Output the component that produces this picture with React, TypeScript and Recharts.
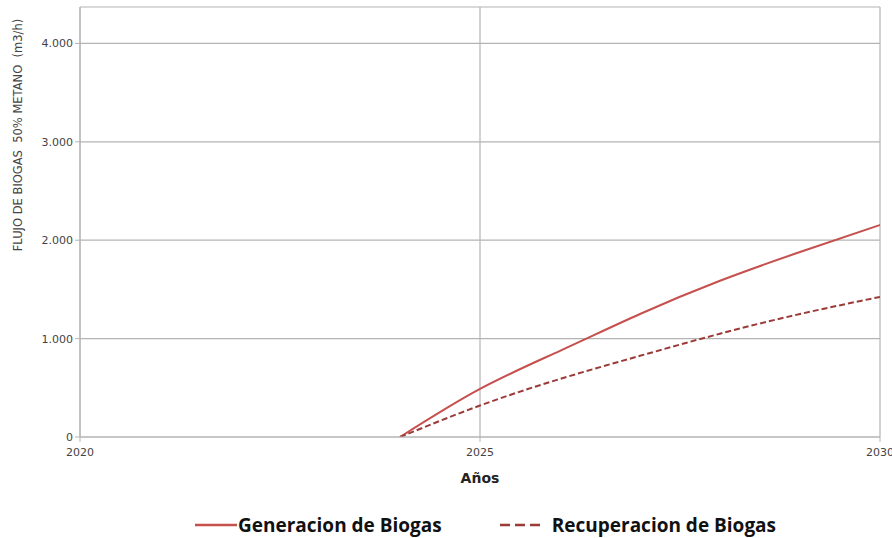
import React from "react";
import {
  LineChart, Line, XAxis, YAxis, CartesianGrid, Legend, Label,
} from "recharts";

// years on the x axis
const years = [2024, 2025, 2026, 2027, 2028, 2029, 2030];
// biogas flow, m3/h
const generacion = [0, 489, 876, 1250, 1588, 1880, 2155];
const recuperacion = [0, 320, 590, 825, 1050, 1250, 1424];

const xTicks = [2020, 2025, 2030];
const yTicks = [0, 1000, 2000, 3000, 4000];

const data = years.map((y, i) => ({
  year: y,
  gen: generacion[i],
  rec: recuperacion[i],
}));

const GEN_COLOR = "#C5504D";
const REC_COLOR = "#9B3B38";
const GRID = "#B4B4B4";

const fmt = (v: number) => (v === 0 ? "0" : v.toLocaleString("de-DE"));

function LegendBox() {
  const item = (label: string, color: string, dash: string | undefined, gap: number, ml: number) => (
    <div style={{ display: "flex", alignItems: "center", marginLeft: ml }}>
      <svg width={42} height={10}>
        <line x1={0} y1={5} x2={42} y2={5} stroke={color} strokeWidth={2.5} strokeDasharray={dash} />
      </svg>
      <span style={{ marginLeft: gap, fontWeight: 700, fontSize: 19, color: "#111" }}>{label}</span>
    </div>
  );
  return (
    <div style={{ display: "flex", fontFamily: "'Open Sans', sans-serif", paddingLeft: 195 }}>
      {item("Generacion de Biogas", GEN_COLOR, undefined, 1, 0)}
      {item("Recuperacion de Biogas", REC_COLOR, "10 5", 10, 58)}
    </div>
  );
}

export default function App() {
  return (
    <div style={{ position: "absolute", left: 0, top: 0, background: "#fff" }}>
      <LineChart
        width={892}
        height={538}
        data={data}
        margin={{ top: 7, right: 12, bottom: 0, left: 0 }}
        style={{ fontFamily: "'DejaVu Sans', sans-serif" }}
      >
        <CartesianGrid stroke={GRID} strokeWidth={1.2} />
        <XAxis
          dataKey="year"
          type="number"
          domain={[2020, 2030]}
          ticks={xTicks}
          allowDataOverflow
          stroke={GRID}
          tickSize={5}
          height={75}
          tick={{ fontSize: 11, fill: "#444", dy: 4 }}
        >
          <Label value="Años" position="insideTop" offset={36} style={{ fontSize: 14, fontWeight: 700, fill: "#222" }} />
        </XAxis>
        <YAxis
          type="number"
          domain={[0, 4370]}
          ticks={yTicks}
          allowDataOverflow
          width={80}
          stroke={GRID}
          tickSize={5}
          tickFormatter={fmt}
          tick={{ fontSize: 11, fill: "#444" }}
        >
          <Label
            content={() => (
              <text
                x={22}
                y={135}
                transform="rotate(-90 22 135)"
                textAnchor="middle"
                fontSize={11.5}
                fill="#444"
                style={{ whiteSpace: "pre" }}
              >
                {"FLUJO DE BIOGAS  50% METANO  (m3/h)"}
              </text>
            )}
          />
        </YAxis>
        <Legend
          verticalAlign="bottom"
          wrapperStyle={{ left: 0, width: 892 }}
          content={() => <LegendBox />}
        />
        <Line
          type="natural"
          dataKey="gen"
          stroke={GEN_COLOR}
          strokeWidth={2}
          dot={false}
          isAnimationActive={false}
          name="Generacion de Biogas"
        />
        <Line
          type="natural"
          dataKey="rec"
          stroke={REC_COLOR}
          strokeWidth={2}
          strokeDasharray="6 3"
          dot={false}
          isAnimationActive={false}
          name="Recuperacion de Biogas"
        />
      </LineChart>
    </div>
  );
}
